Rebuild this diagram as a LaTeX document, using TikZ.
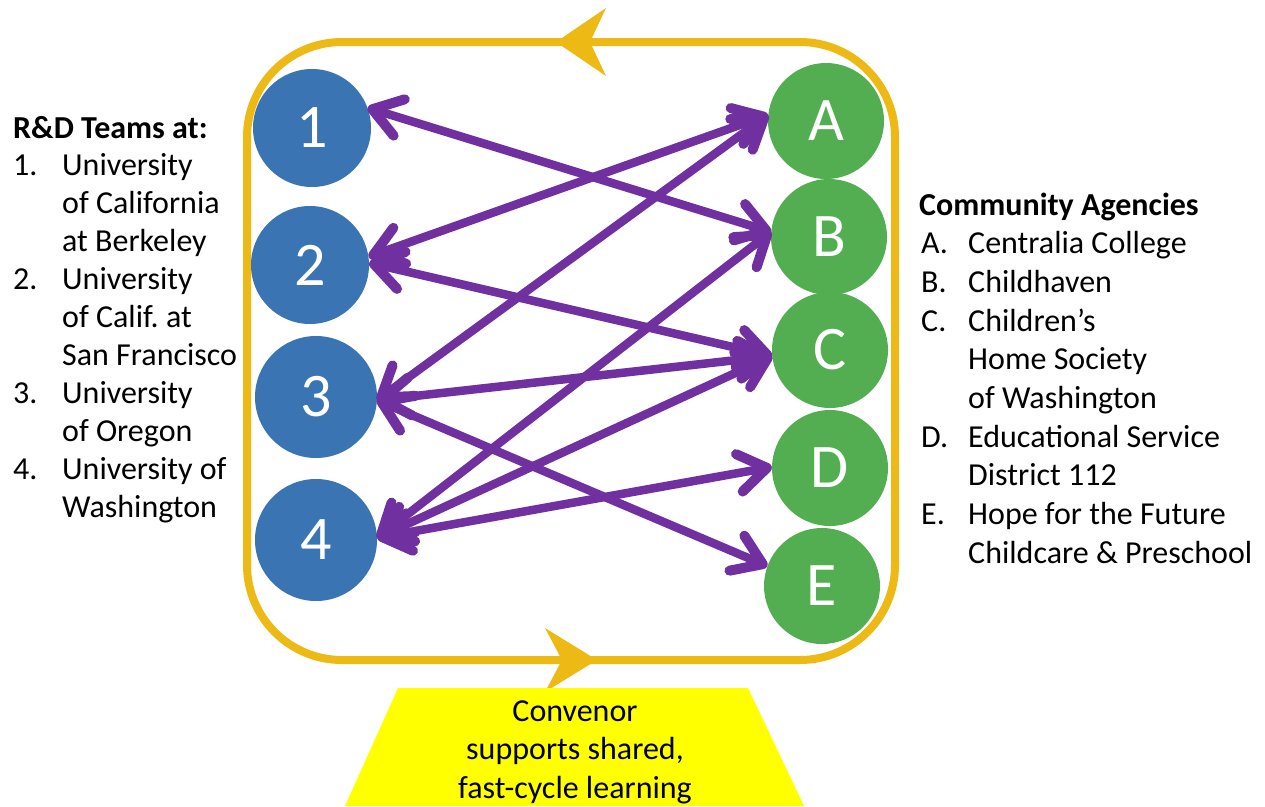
\documentclass[tikz,border=0pt]{standalone}
\usepackage{fontspec}
\setmainfont{Carlito}
\frenchspacing
\usetikzlibrary{arrows.meta}
\definecolor{blueN}{HTML}{3A74B2}
\definecolor{greenN}{HTML}{52AE50}
\definecolor{purp}{HTML}{7030A0}
\definecolor{gold}{HTML}{EDB914}
\definecolor{yel}{HTML}{FFFF00}
\begin{document}
\begin{tikzpicture}[x=1pt,y=-1pt,
  team/.style={circle, fill=blueN, text=white, minimum size=118pt, inner sep=0pt, font=\fontsize{62}{62}\selectfont},
  agency/.style={circle, fill=greenN, text=white, minimum size=116pt, inner sep=0pt, font=\fontsize{62}{62}\selectfont},
  barb/.tip={Straight Barb[length=28pt,width=38pt,line width=10pt,round]},
  link/.style={draw=purp, line width=8.5pt, barb-barb},
  lbl/.style={anchor=base west, inner sep=0pt, font=\fontsize{32}{38}\selectfont},
  hd/.style={anchor=base west, inner sep=0pt, font=\fontsize{32}{38}\selectfont\bfseries},
  loopline/.style={draw=gold, line width=8pt, rounded corners=95pt},
]
\useasboundingbox (0,0) rectangle (1265,806);
\fill[white] (0,0) rectangle (1265,806);

% convenor loop
\draw[loopline] (247,42) rectangle (895,660);
\fill[gold] (556,42) -- (606,8) -- (590,42) -- (606,76) -- cycle;
\fill[gold] (597,660) -- (545,628) -- (562,660) -- (545,692) -- cycle;

% convenor box
\fill[yel] (398,688) -- (748,688) -- (804,806) -- (345,806) -- cycle;
\node[align=center, inner sep=0pt, font=\fontsize{32}{38.5}\selectfont] (conv) at (575,752) {Convenor\\supports shared,\\fast-cycle learning};

% teams
\node[team] (n1) at (312,128) {1};
\node[team] (n2) at (310,265) {2};
\node[team, minimum size=122pt] (n3) at (316,397) {3};
\node[team, minimum size=122pt] (n4) at (316,540) {4};

% agencies
\node[agency] (nA) at (826,121) {A};
\node[agency] (nB) at (829,237) {B};
\node[agency] (nC) at (830,350) {C};
\node[agency] (nD) at (830,468) {D};
\node[agency] (nE) at (822,586) {E};

% links
\draw[link] (n1.20) -- (nB.175);
\draw[link] (n2.8) -- (nA.174);
\draw[link] (n2.2) -- (nC.186);
\draw[link] (n3.-3) -- (nA.174);
\draw[link] (n3.-3) -- (nC.186);
\draw[link] (n3.-3) -- (nE.160);
\draw[link] (n4.2) -- (nB.175);
\draw[link] (n4.2) -- (nC.186);
\draw[link] (n4.2) -- (nD.179);

% left list
\node[hd] (rdh) at (13,138) {R\&D Teams at:};
\node[lbl] (l1n) at (13,175.9) {1.};
\node[lbl] (l1a) at (62,175.9) {University};
\node[lbl] (l1b) at (62,213.8) {of California};
\node[lbl] (l1c) at (62,251.7) {at Berkeley};
\node[lbl] (l2n) at (13,289.6) {2.};
\node[lbl] (l2a) at (62,289.6) {University};
\node[lbl] (l2b) at (62,327.5) {of Calif. at};
\node[lbl] (l2c) at (62,365.4) {San Francisco};
\node[lbl] (l3n) at (13,403.3) {3.};
\node[lbl] (l3a) at (62,403.3) {University};
\node[lbl] (l3b) at (62,441.2) {of Oregon};
\node[lbl] (l4n) at (13,479.1) {4.};
\node[lbl] (l4a) at (62,479.1) {University of};
\node[lbl] (l4b) at (62,517) {Washington};

% right list
\node[hd] (cah) at (919,215) {Community Agencies};
\node[lbl] (rAn) at (921,253.7) {A.};
\node[lbl] (rAa) at (968,253.7) {Centralia College};
\node[lbl] (rBn) at (921,292.4) {B.};
\node[lbl] (rBa) at (968,292.4) {Childhaven};
\node[lbl] (rCn) at (921,331.1) {C.};
\node[lbl] (rCa) at (968,331.1) {Children’s};
\node[lbl] (rCb) at (968,369.8) {Home Society};
\node[lbl] (rCc) at (968,408.5) {of Washington};
\node[lbl] (rDn) at (921,447.2) {D.};
\node[lbl] (rDa) at (968,447.2) {Educational Service};
\node[lbl] (rDb) at (968,485.9) {District 112};
\node[lbl] (rEn) at (921,524.6) {E.};
\node[lbl] (rEa) at (968,524.6) {Hope for the Future};
\node[lbl] (rEb) at (968,563.3) {Childcare \& Preschool};
\end{tikzpicture}
\end{document}
